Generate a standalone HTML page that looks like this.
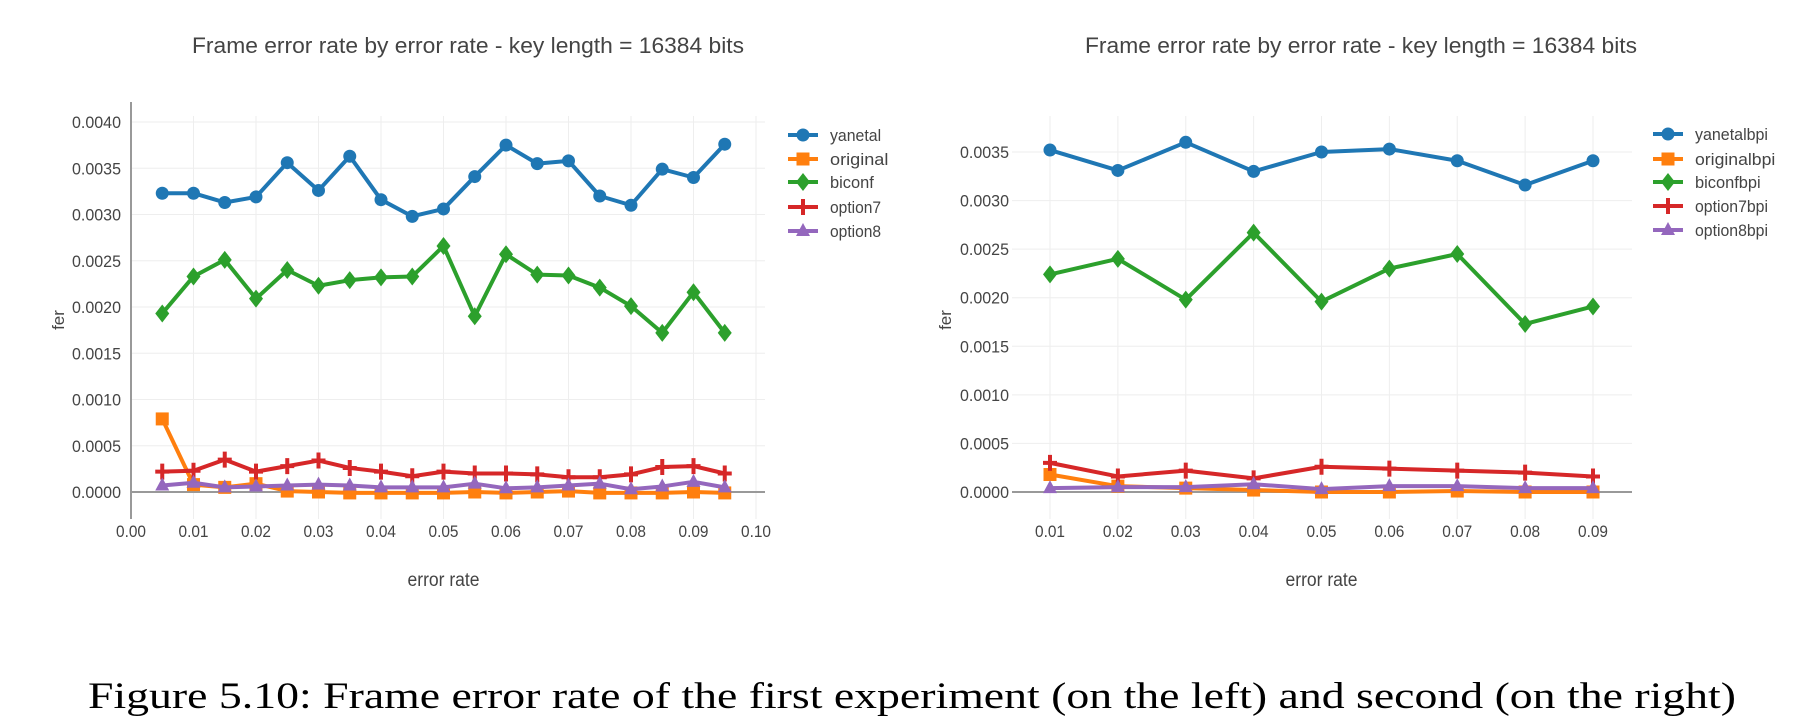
<!DOCTYPE html>
<html><head><meta charset="utf-8"><style>
body{margin:0;background:#fff}
svg text{font-family:"Liberation Sans",sans-serif;fill:#444}
</style></head><body>
<svg id="s" width="1802" height="718" xmlns="http://www.w3.org/2000/svg">
<text x="468" y="53" text-anchor="middle" font-size="22" textLength="552" lengthAdjust="spacingAndGlyphs">Frame error rate by error rate - key length = 16384 bits</text>
<text x="1361" y="53" text-anchor="middle" font-size="22" textLength="552" lengthAdjust="spacingAndGlyphs">Frame error rate by error rate - key length = 16384 bits</text>
<text x="912" y="708" text-anchor="middle" font-size="37" textLength="1648" lengthAdjust="spacingAndGlyphs" style="font-family:'Liberation Serif',serif;fill:#000">Figure 5.10: Frame error rate of the first experiment (on the left) and second (on the right)</text>
</svg>
<script>
const leftX=[0.005,0.01,0.015,0.02,0.025,0.03,0.035,0.04,0.045,0.05,0.055,0.06,0.065,0.07,0.075,0.08,0.085,0.09,0.095];
const leftYanetal=[0.00323,0.00323,0.00313,0.00319,0.00356,0.00326,0.00363,0.00316,0.00298,0.00306,0.00341,0.00375,0.00355,0.00358,0.00320,0.00310,0.00349,0.00340,0.00376];
const leftOriginal=[0.00079,0.00008,0.00005,0.00009,0.00001,0,-0.00001,-0.00001,-0.00001,-0.00001,0,-0.00001,0,0.00001,-0.00001,-0.00001,-0.00001,0,-0.00001];
const leftBiconf=[0.00193,0.00233,0.00251,0.00209,0.00240,0.00223,0.00229,0.00232,0.00233,0.00266,0.00190,0.00257,0.00235,0.00234,0.00221,0.00201,0.00172,0.00216,0.00172];
const leftOption7=[0.00022,0.00023,0.00035,0.00022,0.00028,0.00034,0.00026,0.00022,0.00017,0.00022,0.00020,0.00020,0.00019,0.00016,0.00016,0.00019,0.00027,0.00028,0.00020];
const leftOption8=[0.00007,0.00010,0.00005,0.00006,0.00007,0.00008,0.00007,0.00005,0.00005,0.00005,0.00009,0.00004,0.00005,0.00007,0.00009,0.00003,0.00006,0.00011,0.00005];
const leftXTicks=["0.00","0.01","0.02","0.03","0.04","0.05","0.06","0.07","0.08","0.09","0.10"];
const leftYTicks=["0.0000","0.0005","0.0010","0.0015","0.0020","0.0025","0.0030","0.0035","0.0040"];
const leftNames=["yanetal","original","biconf","option7","option8"];

const rightX=[0.01,0.02,0.03,0.04,0.05,0.06,0.07,0.08,0.09];
const rightYanetal=[0.00352,0.00331,0.00360,0.00330,0.00350,0.00353,0.00341,0.00316,0.00341];
const rightOriginal=[0.00018,0.00006,0.00004,0.00002,0,0,0.00001,0,0];
const rightBiconf=[0.00224,0.00240,0.00198,0.00267,0.00196,0.00230,0.00245,0.00173,0.00191];
const rightOption7=[0.00030,0.00016,0.00022,0.00014,0.00026,0.00024,0.00022,0.00020,0.00016];
const rightOption8=[0.00004,0.00005,0.00005,0.00008,0.00003,0.00006,0.00006,0.00004,0.00004];
const rightXTicks=["0.01","0.02","0.03","0.04","0.05","0.06","0.07","0.08","0.09"];
const rightYTicks=["0.0000","0.0005","0.0010","0.0015","0.0020","0.0025","0.0030","0.0035"];
const rightNames=["yanetalbpi","originalbpi","biconfbpi","option7bpi","option8bpi"];

const colors=["#1f77b4","#ff7f0e","#2ca02c","#d62728","#9467bd"];
const symbols=["circle","square","diamond","cross","triangle"];
const NS="http://www.w3.org/2000/svg";
const svg=document.getElementById('s');
function mk(tag,attrs,parent){const e=document.createElementNS(NS,tag);for(const k in attrs)e.setAttribute(k,attrs[k]);(parent||svg).appendChild(e);return e;}
function marker(g,sym,x,y,c){
  let e;
  if(sym==="circle")e=mk('circle',{cx:x,cy:y,r:6.5,fill:c},g);
  else if(sym==="square")e=mk('rect',{x:x-6.5,y:y-6.5,width:13,height:13,fill:c},g);
  else if(sym==="diamond")e=mk('polygon',{points:`${x},${y-9} ${x+7},${y} ${x},${y+9} ${x-7},${y}`,fill:c},g);
  else if(sym==="cross")e=mk('path',{d:`M${x-7},${y-2}h5v-6h4v6h5v4h-5v6h-4v-6h-5z`,fill:c},g);
  else e=mk('polygon',{points:`${x},${y-8} ${x+7},${y+5} ${x-7},${y+5}`,fill:c},g);
  return e;
}
function chart(o){
  const sx=v=>o.px0+(v-o.xmin)/(o.xmax-o.xmin)*(o.px1-o.px0);
  const sy=v=>o.py0-(v)/(o.ymax)*(o.py0-o.pyTop);
  const g=mk('g',{});
  
  
  o.xTicks.forEach(t=>{const x=sx(+t);
    const l=mk('line',{x1:x,x2:x,y1:o.gTop,y2:o.gBot,stroke:'#eee','stroke-width':1},g);
    
    const tx=mk('text',{x:x,y:o.tickY,'text-anchor':'middle','font-size':17,textLength:30,lengthAdjust:'spacingAndGlyphs'},g);
    tx.textContent=t;
    
  });
  o.yTicks.forEach(t=>{const y=sy(+t);
    const l=mk('line',{x1:o.gLeft,x2:o.gRight,y1:y,y2:y,stroke:+t===0?'#999':'#eee','stroke-width':+t===0?2:1},g);
    
    const tx=mk('text',{x:o.yLabX,y:y+6,'text-anchor':'end','font-size':17,textLength:49,lengthAdjust:'spacingAndGlyphs'},g);
    tx.textContent=t;
    
  });
  if(o.yAxisLine){const l=mk('line',{x1:o.gLeft,x2:o.gLeft,y1:o.gTop-14,y2:o.gBot,stroke:'#999','stroke-width':2},g);
    }
  const xt=mk('text',{x:(o.px0+o.px1)/2,y:586,'text-anchor':'middle','font-size':19,textLength:72,lengthAdjust:'spacingAndGlyphs'},g);
  xt.textContent='error rate';
  
  const yt=mk('text',{x:0,y:0,'text-anchor':'middle','font-size':17,transform:`translate(${o.fx},320) rotate(-90)`},g);
  yt.textContent='fer';
  
  o.series.forEach((vals,i)=>{
    const sg=mk('g',{},g);
    
    const pts=vals.map((v,j)=>sx(o.xs[j])+','+sy(v)).join(' ');
    const pl=mk('polyline',{points:pts,fill:'none',stroke:colors[i],'stroke-width':4,'stroke-linejoin':'round'},sg);
    
    vals.forEach((v,j)=>{const m=marker(sg,symbols[i],sx(o.xs[j]),sy(v),colors[i]);
      });
    const ly=o.legY[i];
    const lg=mk('g',{},g);
    
    mk('line',{x1:o.legX,x2:o.legX+30,y1:ly,y2:ly,stroke:colors[i],'stroke-width':4},lg);
    marker(lg,symbols[i],o.legX+15,ly,colors[i]);
    const lt=mk('text',{x:o.legX+42,y:ly+6,'font-size':17,textLength:o.names[i].length*7.3,lengthAdjust:'spacingAndGlyphs'},lg);
    lt.textContent=o.names[i];
  });
}
chart({name:'left-chart',xs:leftX,series:[leftYanetal,leftOriginal,leftBiconf,leftOption7,leftOption8],names:leftNames,
  xTicks:leftXTicks,yTicks:leftYTicks,xmin:0,xmax:0.1,px0:131,px1:756,ymax:0.004,py0:492,pyTop:122,
  gTop:116,gBot:519,gLeft:131,gRight:765,yLabX:121,tickY:537,fx:64,yAxisLine:true,legX:788,legY:[135,159,182,207,231]});
chart({name:'right-chart',xs:rightX,series:[rightYanetal,rightOriginal,rightBiconf,rightOption7,rightOption8],names:rightNames,
  xTicks:rightXTicks,yTicks:rightYTicks,xmin:0.01,xmax:0.09,px0:1050,px1:1593,ymax:0.0035,py0:492,pyTop:152,
  gTop:116,gBot:519,gLeft:1012,gRight:1632,yLabX:1009,tickY:537,fx:951,yAxisLine:false,legX:1653,legY:[134,159,182,206,230]});
</script>
</body></html>
